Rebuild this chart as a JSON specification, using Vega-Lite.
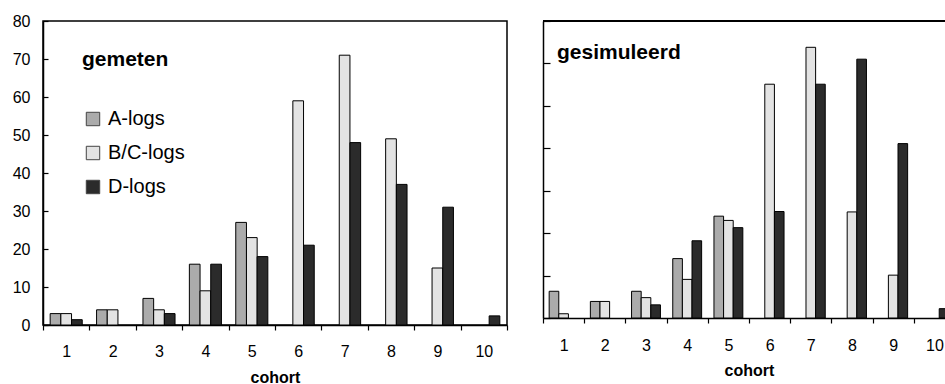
{
  "$schema": "https://vega.github.io/schema/vega-lite/v6.json",
  "padding": {"left": 11, "top": 12, "right": 0, "bottom": 0},
  "config": {
    "font": "Liberation Sans",
    "view": {"stroke": "#000", "strokeWidth": 1.5},
    "axis": {"domainColor": "#000", "tickColor": "#000", "labelColor": "#000", "titleColor": "#000", "grid": false, "labelFont": "Liberation Sans", "titleFont": "Liberation Sans", "labelFontSize": 16, "domainWidth": 1.5, "tickWidth": 1.2},
    "title": {"font": "Liberation Sans", "fontSize": 21, "fontWeight": "bold", "color": "#000", "anchor": "start", "frame": "group"},
    "concat": {"spacing": 33}
  },
  "datasets": {
    "gemeten": [
      {"cohort": 1, "serie": "A-logs", "aantal": 3},
      {"cohort": 1, "serie": "B/C-logs", "aantal": 3},
      {"cohort": 1, "serie": "D-logs", "aantal": 1.4},
      {"cohort": 2, "serie": "A-logs", "aantal": 4},
      {"cohort": 2, "serie": "B/C-logs", "aantal": 4},
      {"cohort": 3, "serie": "A-logs", "aantal": 7},
      {"cohort": 3, "serie": "B/C-logs", "aantal": 4},
      {"cohort": 3, "serie": "D-logs", "aantal": 3},
      {"cohort": 4, "serie": "A-logs", "aantal": 16},
      {"cohort": 4, "serie": "B/C-logs", "aantal": 9},
      {"cohort": 4, "serie": "D-logs", "aantal": 16},
      {"cohort": 5, "serie": "A-logs", "aantal": 27},
      {"cohort": 5, "serie": "B/C-logs", "aantal": 23},
      {"cohort": 5, "serie": "D-logs", "aantal": 18},
      {"cohort": 6, "serie": "B/C-logs", "aantal": 59},
      {"cohort": 6, "serie": "D-logs", "aantal": 21},
      {"cohort": 7, "serie": "B/C-logs", "aantal": 71},
      {"cohort": 7, "serie": "D-logs", "aantal": 48},
      {"cohort": 8, "serie": "B/C-logs", "aantal": 49},
      {"cohort": 8, "serie": "D-logs", "aantal": 37},
      {"cohort": 9, "serie": "B/C-logs", "aantal": 15},
      {"cohort": 9, "serie": "D-logs", "aantal": 31},
      {"cohort": 10, "serie": "D-logs", "aantal": 2.4}
    ],
    "gesimuleerd": [
      {"cohort": 1, "serie": "A-logs", "aantal": 6.3},
      {"cohort": 1, "serie": "B/C-logs", "aantal": 1.0},
      {"cohort": 2, "serie": "A-logs", "aantal": 3.9},
      {"cohort": 2, "serie": "B/C-logs", "aantal": 3.9},
      {"cohort": 3, "serie": "A-logs", "aantal": 6.3},
      {"cohort": 3, "serie": "B/C-logs", "aantal": 4.8},
      {"cohort": 3, "serie": "D-logs", "aantal": 3.1},
      {"cohort": 4, "serie": "A-logs", "aantal": 14.0},
      {"cohort": 4, "serie": "B/C-logs", "aantal": 9.1},
      {"cohort": 4, "serie": "D-logs", "aantal": 18.2},
      {"cohort": 5, "serie": "A-logs", "aantal": 24.0},
      {"cohort": 5, "serie": "B/C-logs", "aantal": 23.0},
      {"cohort": 5, "serie": "D-logs", "aantal": 21.3},
      {"cohort": 6, "serie": "B/C-logs", "aantal": 55.1},
      {"cohort": 6, "serie": "D-logs", "aantal": 25.1},
      {"cohort": 7, "serie": "B/C-logs", "aantal": 63.8},
      {"cohort": 7, "serie": "D-logs", "aantal": 55.1},
      {"cohort": 8, "serie": "B/C-logs", "aantal": 25.0},
      {"cohort": 8, "serie": "D-logs", "aantal": 61.0},
      {"cohort": 9, "serie": "B/C-logs", "aantal": 10.1},
      {"cohort": 9, "serie": "D-logs", "aantal": 41.1},
      {"cohort": 10, "serie": "D-logs", "aantal": 2.2}
    ]
  },
  "hconcat": [
    {
      "width": 464,
      "height": 304,
      "title": {"text": "gemeten", "offset": -57, "dx": 39},
      "data": {"name": "gemeten"},
      "mark": {"type": "bar", "stroke": "#000", "strokeWidth": 1},
      "encoding": {
        "x": {"field": "cohort", "type": "ordinal", "scale": {"paddingInner": 0, "paddingOuter": 0},
          "axis": {"labelAngle": 0, "tickBand": "extent", "tickSize": 5, "labelPadding": 13, "title": "cohort", "titleFontSize": 16, "titleFontWeight": "bold", "titlePadding": 10}},
        "xOffset": {"field": "serie", "type": "nominal", "sort": ["A-logs", "B/C-logs", "D-logs"], "scale": {"paddingInner": 0, "paddingOuter": 0.67}},
        "y": {"field": "aantal", "type": "quantitative", "scale": {"domain": [0, 80], "nice": false},
          "axis": {"values": [0, 10, 20, 30, 40, 50, 60, 70, 80], "tickSize": -5, "labelPadding": 18, "title": null}},
        "color": {"field": "serie", "type": "nominal", "sort": ["A-logs", "B/C-logs", "D-logs"],
          "scale": {"domain": ["A-logs", "B/C-logs", "D-logs"], "range": ["#ababab", "#e3e3e3", "#2b2b2b"]},
          "legend": {"orient": "none", "legendX": 40, "legendY": 88, "title": null, "symbolType": "square", "symbolSize": 180, "labelFontSize": 20, "labelFont": "Liberation Sans", "labelColor": "#000", "rowPadding": 14, "labelOffset": 5, "symbolStrokeColor": "#444", "symbolStrokeWidth": 1}}
      }
    },
    {
      "width": 404,
      "height": 297,
      "title": {"text": "gesimuleerd", "offset": -43, "dx": 14},
      "data": {"name": "gesimuleerd"},
      "view": {"stroke": null},
      "layer": [
        {
          "mark": {"type": "bar", "stroke": "#000", "strokeWidth": 1},
          "encoding": {
            "x": {"field": "cohort", "type": "ordinal", "scale": {"paddingInner": 0, "paddingOuter": 0, "range": [0, 412]},
              "axis": {"labelAngle": 0, "tickBand": "extent", "tickSize": 5, "labelPadding": 14, "title": "cohort", "titleFontSize": 16, "titleFontWeight": "bold", "titlePadding": 9}},
            "xOffset": {"field": "serie", "type": "nominal", "sort": ["A-logs", "B/C-logs", "D-logs"], "scale": {"paddingInner": 0, "paddingOuter": 0.64}},
            "y": {"field": "aantal", "type": "quantitative", "scale": {"domain": [0, 70], "nice": false},
              "axis": {"values": [0, 10, 20, 30, 40, 50, 60, 70], "tickSize": -7, "labels": false, "title": null}},
            "color": {"field": "serie", "type": "nominal", "sort": ["A-logs", "B/C-logs", "D-logs"],
              "scale": {"domain": ["A-logs", "B/C-logs", "D-logs"], "range": ["#ababab", "#e3e3e3", "#2b2b2b"]},
              "legend": null}
          }
        },
        {
          "mark": {"type": "rule", "color": "#000", "strokeWidth": 1.5},
          "encoding": {"y": {"datum": 70}}
        }
      ]
    }
  ],
  "resolve": {"legend": {"color": "independent"}, "scale": {"y": "independent", "x": "independent", "xOffset": "independent"}}
}
